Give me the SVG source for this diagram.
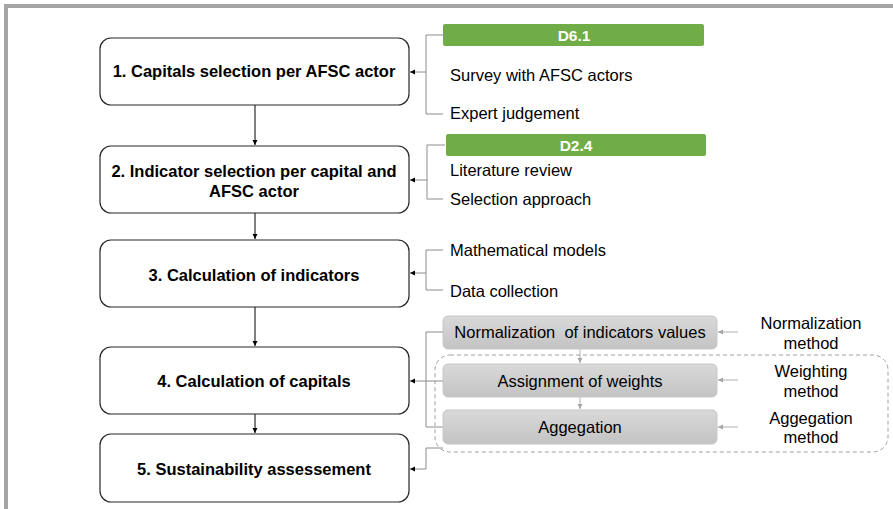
<svg xmlns="http://www.w3.org/2000/svg" width="893" height="509" viewBox="0 0 893 509">
<defs>
<linearGradient id="gg" x1="0" y1="0" x2="0" y2="1">
<stop offset="0" stop-color="#d9d9d9"/>
<stop offset="1" stop-color="#c3c3c3"/>
</linearGradient>
<marker id="ab" markerWidth="6" markerHeight="6" refX="5" refY="3" orient="auto" markerUnits="userSpaceOnUse">
<path d="M0,0.5 L5,3 L0,5.5 Z" fill="#000"/>
</marker>
<marker id="ag" markerWidth="6" markerHeight="6" refX="5" refY="3" orient="auto" markerUnits="userSpaceOnUse">
<path d="M0,0.5 L5,3 L0,5.5 Z" fill="#a6a6a6"/>
</marker>
</defs>
<style>
.box{fill:#fff;stroke:#262626;stroke-width:1.2}
.title{font-family:"Liberation Sans",Arial,sans-serif;font-weight:bold;font-size:16.5px;fill:#000;text-anchor:middle}
.t{font-family:"Liberation Sans",Arial,sans-serif;font-size:16.5px;fill:#000}
.tm{font-family:"Liberation Sans",Arial,sans-serif;font-size:16.5px;fill:#000;text-anchor:middle;white-space:pre}
.green{fill:#70ad47}
.gt{font-family:"Liberation Sans",Arial,sans-serif;font-weight:bold;font-size:15.5px;fill:#fff;text-anchor:middle}
.gray{fill:url(#gg);stroke:#c8c8c8;stroke-width:1}
.main{fill:none;stroke:#000;stroke-width:1}
.br{fill:none;stroke:#8c8c8c;stroke-width:1}
.lg{fill:none;stroke:#b0b0b0;stroke-width:1}
</style>
<rect x="6" y="6" width="900" height="520" fill="#fff" stroke="#a6a6a6" stroke-width="4"/>

<g id="connectors">
<line class="main" x1="255" y1="105" x2="255" y2="145" marker-end="url(#ab)"/>
<line class="main" x1="255" y1="213" x2="255" y2="239" marker-end="url(#ab)"/>
<line class="main" x1="255" y1="307" x2="255" y2="346" marker-end="url(#ab)"/>
<line class="main" x1="255" y1="414" x2="255" y2="433" marker-end="url(#ab)"/>
<path class="br" d="M443,35 H426 V114 H443"/>
<line class="br" x1="426" y1="72" x2="410" y2="72" marker-end="url(#ab)"/>
<path class="br" d="M445,145 H427 V199 H443"/>
<line class="br" x1="427" y1="180" x2="410" y2="180" marker-end="url(#ab)"/>
<path class="br" d="M443,250 H426 V290 H443"/>
<line class="br" x1="426" y1="273" x2="410" y2="273" marker-end="url(#ab)"/>
<path class="br" d="M443,332 H426 V427 H443"/>
<line class="br" x1="443" y1="381" x2="410" y2="381" marker-end="url(#ab)"/>
<path class="br" d="M443,448 H426 V469 H410" marker-end="url(#ab)"/>
<line class="lg" x1="580" y1="349" x2="580" y2="363" marker-end="url(#ag)"/>
<line class="lg" x1="580" y1="397" x2="580" y2="409" marker-end="url(#ag)"/>
<line class="lg" x1="738" y1="332" x2="718" y2="332" marker-end="url(#ag)"/>
<line class="lg" x1="738" y1="380" x2="718" y2="380" marker-end="url(#ag)"/>
<line class="lg" x1="738" y1="427" x2="718" y2="427" marker-end="url(#ag)"/>
</g>

<g id="n1"><rect class="box" x="100" y="38" width="309" height="67" rx="11"/><text class="title" x="254" y="77">1. Capitals selection per AFSC actor</text></g>
<g id="n2"><rect class="box" x="100" y="146" width="309" height="67" rx="11"/><text class="title" x="254" y="177">2. Indicator selection per capital and</text><text class="title" x="254" y="197">AFSC actor</text></g>
<g id="n3"><rect class="box" x="100" y="240" width="309" height="67" rx="11"/><text class="title" x="254" y="281">3. Calculation of indicators</text></g>
<g id="n4"><rect class="box" x="100" y="347" width="309" height="67" rx="11"/><text class="title" x="254" y="387">4. Calculation of capitals</text></g>
<g id="n5"><rect class="box" x="100" y="434" width="309" height="68" rx="11"/><text class="title" x="254" y="475">5. Sustainability assessement</text></g>

<g id="d61"><rect class="green" x="443" y="24" width="261" height="22" rx="2"/><text class="gt" x="574" y="41">D6.1</text></g>
<g id="survey"><text class="t" x="450" y="81">Survey with AFSC actors</text></g>
<g id="expert"><text class="t" x="450" y="119">Expert judgement</text></g>
<g id="d24"><rect class="green" x="446" y="134" width="260" height="22" rx="2"/><text class="gt" x="576" y="151">D2.4</text></g>
<g id="lit"><text class="t" x="450" y="176">Literature review</text></g>
<g id="sel"><text class="t" x="450" y="205">Selection approach</text></g>
<g id="math"><text class="t" x="450" y="256">Mathematical models</text></g>
<g id="data"><text class="t" x="450" y="297">Data collection</text></g>

<g id="group"><rect x="435" y="355" width="453" height="97" rx="15" fill="none" stroke="#a0a0a0" stroke-width="1" stroke-dasharray="4,3"/></g>
<g id="norm"><rect class="gray" x="443" y="316" width="274" height="33" rx="5"/><text class="tm" x="580" y="338" xml:space="preserve">Normalization  of indicators values</text></g>
<g id="weights"><rect class="gray" x="443" y="364" width="274" height="33" rx="5"/><text class="tm" x="580" y="387">Assignment of weights</text></g>
<g id="agg"><rect class="gray" x="443" y="410" width="274" height="34" rx="5"/><text class="tm" x="580" y="433">Aggegation</text></g>

<g id="normm"><text class="tm" x="811" y="329">Normalization</text><text class="tm" x="811" y="349">method</text></g>
<g id="weightm"><text class="tm" x="811" y="377">Weighting</text><text class="tm" x="811" y="397">method</text></g>
<g id="aggm"><text class="tm" x="811" y="424">Aggegation</text><text class="tm" x="811" y="443">method</text></g>
</svg>
